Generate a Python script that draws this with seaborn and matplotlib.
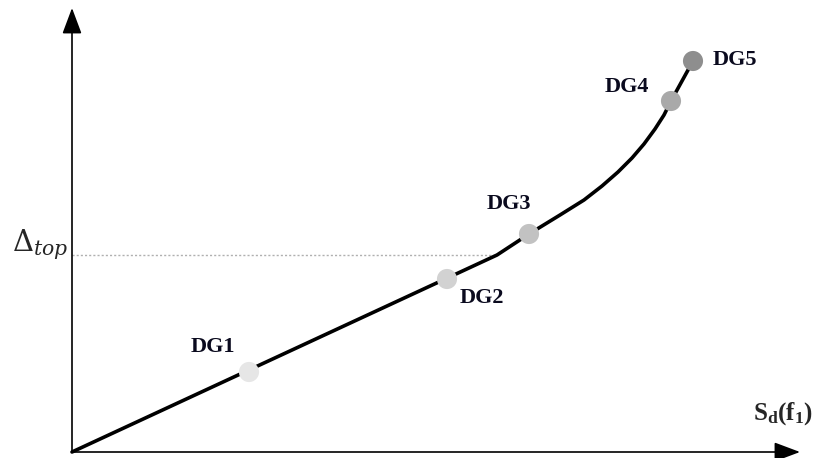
import numpy as np
import pandas as pd
import seaborn as sns
import matplotlib.pyplot as plt

# capacity curve (spectral displacement vs top displacement), arbitrary units
curve_sd = [0, 425, 457, 488, 512, 530, 546, 560, 572, 583, 592, 599, 610, 621]
curve_top = [0, 197, 218, 237, 252, 266, 280, 294, 308, 323, 337, 351, 371, 391]

# damage grade points
dg_labels = ['DG1', 'DG2', 'DG3', 'DG4', 'DG5']
dg_sd = [177, 375, 457, 599, 621]
dg_top = [80, 173, 218, 351, 391]
dg_colors = ['#e6e6e6', '#d2d2d2', '#c2c2c2', '#a9a9a9', '#8e8e8e']
# label anchor positions (centre of text)
dg_text_sd = [141, 410, 437, 555, 663]
dg_text_top = [105, 154, 248, 365, 392]

delta_top = 197

sns.set_style('white')
plt.rcParams['mathtext.fontset'] = 'custom'
plt.rcParams['mathtext.bf'] = 'Liberation Serif:bold'
plt.rcParams['mathtext.rm'] = 'DejaVu Serif'
plt.rcParams['mathtext.it'] = 'DejaVu Serif:italic'

fig = plt.figure(figsize=(8.17, 4.58), dpi=100)
ax = fig.add_axes([0, 0, 1, 1])
ax.set_xlim(-72, 745)
ax.set_ylim(-6, 452)
ax.axis('off')

curve = pd.DataFrame({'sd': curve_sd, 'top': curve_top})
sns.lineplot(data=curve, x='sd', y='top', color='black', lw=2.6, sort=False, ax=ax)

# dotted reference line for delta_top
ax.plot([0, 425], [delta_top, delta_top], color='#b0b0b0', lw=1, ls=(0, (1.5, 1.5)), zorder=1)

dg = pd.DataFrame({'sd': dg_sd, 'top': dg_top, 'label': dg_labels})
sns.scatterplot(data=dg, x='sd', y='top', hue='label', palette=dg_colors,
                s=210, edgecolor='none', legend=False, zorder=3, ax=ax)

for lab, tx, ty in zip(dg_labels, dg_text_sd, dg_text_top):
    ax.text(tx, ty, lab, fontsize=16, fontweight='bold', family='Liberation Serif',
            ha='center', va='center', color='#0a0a1e')

# axes with arrow heads
arrow = dict(arrowstyle='-|>,head_length=0.8,head_width=0.3', mutation_scale=20,
             color='black', lw=1.2, shrinkA=0, shrinkB=0)
ax.annotate('', xy=(0, 444), xytext=(0, 0), arrowprops=arrow)
ax.annotate('', xy=(728, 0), xytext=(0, 0), arrowprops=arrow)

ax.text(-60, 207, r'$\Delta_{top}$', fontsize=21, ha='left', va='center')
ax.text(711, 38, r'$\mathbf{S_d(f_1)}$', fontsize=18, ha='center', va='center')

fig.savefig('out.png', dpi=100)
